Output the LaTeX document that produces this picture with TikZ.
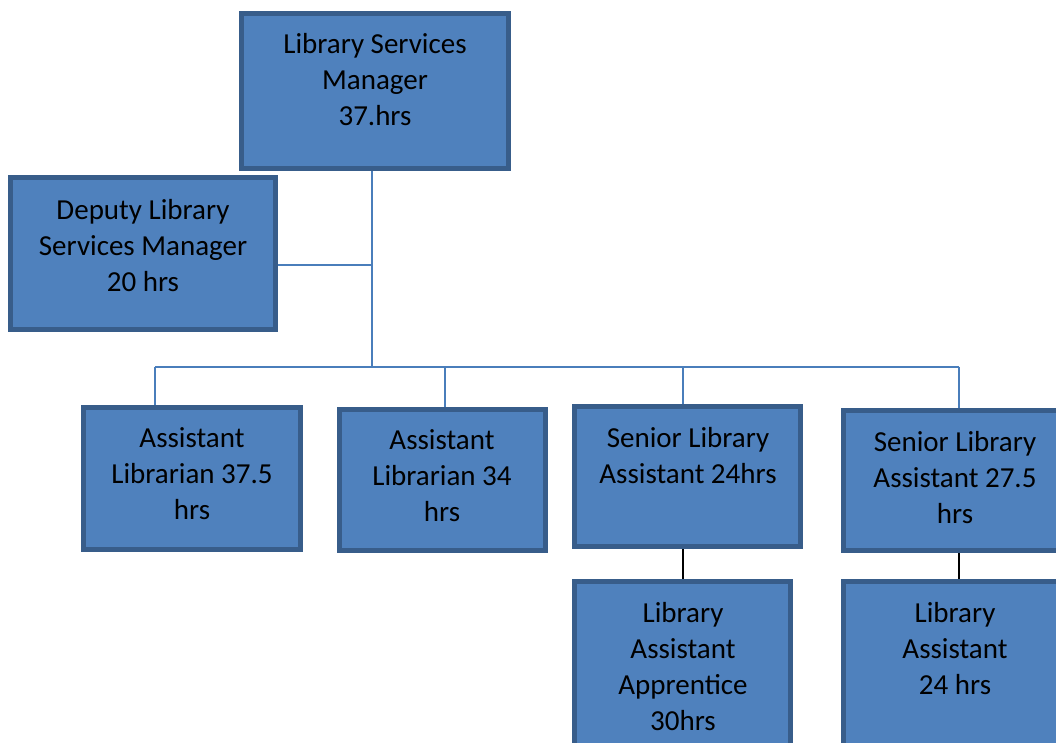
\documentclass[tikz,border=0pt]{standalone}
\usepackage{fontspec}
\setmainfont{Carlito}
\definecolor{boxblue}{RGB}{79,129,189}
\definecolor{boxedge}{RGB}{56,93,138}
\definecolor{linkblue}{RGB}{74,126,187}

\begin{document}
\begin{tikzpicture}[x=1pt, y=-1pt,
   box/.style={rectangle, draw=boxedge, fill=boxblue, line width=5pt, inner sep=0pt},
   lbl/.style={anchor=north, align=center, inner sep=0pt, font=\fontsize{29}{36}\selectfont},
   link/.style={draw=linkblue, line width=2pt},
   sublink/.style={draw=black, line width=2pt}]
   \useasboundingbox (0,0) rectangle (1056,743);
   \clip (0,0) rectangle (1056,743);
   % boxes
   \begin{scope}[every node/.append style={box}]
    \node[minimum width=267, minimum height=155] (mgr) at (375,91) {};
    \node[minimum width=265, minimum height=152] (dep) at (143,253.5) {};
    \node[minimum width=217, minimum height=142] (al1) at (192,478.5) {};
    \node[minimum width=206, minimum height=141] (al2) at (442.5,480) {};
    \node[minimum width=226, minimum height=140] (sla1) at (687.5,476.5) {};
    \node[minimum width=223, minimum height=140] (sla2) at (955,480.5) {};
    \node[minimum width=216, minimum height=181] (laa) at (682.5,672) {};
    \node[minimum width=223, minimum height=181] (la) at (955,672) {};
   \end{scope}
   % texts
   \begin{scope}[every node/.append style={lbl}]
    \node (mgr-t) at (375,27.8) {\strut Library Services\\Manager\\37.hrs};
    \node (dep-t) at (143,193.8) {\strut Deputy Library\\Services Manager\\20 hrs};
    \node (al1-t) at (192,421.8) {\strut Assistant\\Librarian 37.5\\hrs};
    \node (al2-t) at (442,423.8) {\strut Assistant\\Librarian 34\\hrs};
    \node (sla1-t) at (688,421.8) {\strut Senior Library\\Assistant 24hrs};
    \node (sla2-t) at (955,425.8) {\strut Senior Library\\Assistant 27.5\\hrs};
    \node (laa-t) at (683,597.5) {\strut Library\\Assistant\\Apprentice\\30hrs};
    \node (la-t) at (955,597.5) {\strut Library\\Assistant\\24 hrs};
   \end{scope}
   % connectors
   \coordinate (bus) at (372,366.5);
   \coordinate (jdep) at (372,265);
   \coordinate (b1) at (155,366.5);
   \coordinate (b2) at (445,366.5);
   \coordinate (b3) at (683,366.5);
   \coordinate (b4) at (959,366.5);
   \draw[link] (mgr.south -| bus) -- (bus);
   \draw[link] (dep.east |- jdep) -- (jdep);
   \draw[link] (b1) -- (b4);
   \draw[link] (b1) -- (b1 |- al1.north);
   \draw[link] (b2) -- (b2 |- al2.north);
   \draw[link] (b3) -- (b3 |- sla1.north);
   \draw[link] (b4) -- (b4 |- sla2.north);
   \draw[sublink] (b3 |- sla1.south) -- (b3 |- laa.north);
   \draw[sublink] (b4 |- sla2.south) -- (b4 |- la.north);
\end{tikzpicture}
\end{document}
